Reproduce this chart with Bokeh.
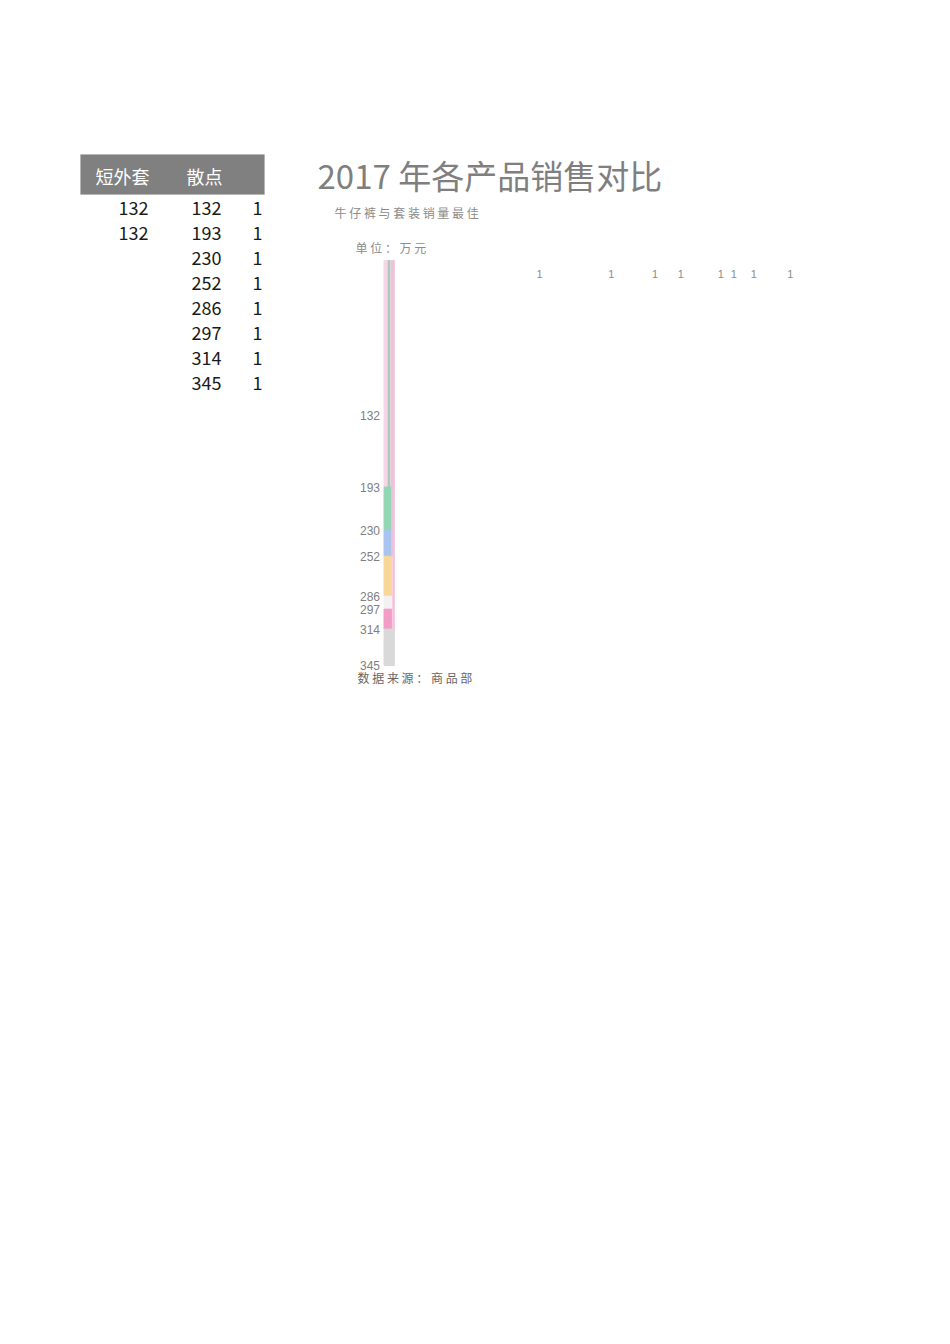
from bokeh.plotting import figure
from bokeh.models import Range1d, Label, BoxAnnotation
from bokeh.core.properties import value
from bokeh.embed import file_html
from bokeh.resources import INLINE

# table data
header = ["短外套", "散点"]
jacket = [132, 132]
points = [132, 193, 230, 252, 286, 297, 314, 345]
ones = [1, 1, 1, 1, 1, 1, 1, 1]

title = "2017 年各产品销售对比"
subtitle = "牛 仔 裤 与 套 装 销 量 最 佳"
unit = "单 位 ： 万 元"
source_note = "数 据 来 源 ： 商 品 部"

seg_colors = ["#F8D6E6", "#F8D6E6", "#93D6B3", "#A9C5EF", "#F8D898", "#F2F2F2", "#F29CC8", "#D9D9D9"]

W, H = 950, 720
CJK = "Noto Sans CJK SC"

# where value 0 sits on the page and how many px per unit
X0, KX = 383.5, 1.178
Y0, KY = 260.0, 405.0 / 345


def sy(y):
    # page y (top down) -> screen y (bottom up)
    return H - y


# the frame fills the whole canvas, the value scale is set so the chart lands in place
p = figure(width=W, height=H, output_backend="svg", toolbar_location=None,
           x_range=Range1d(-X0 / KX, (W - X0) / KX),
           y_range=Range1d((H - Y0) / KY, -Y0 / KY),
           min_border=0)
p.outline_line_color = None
p.grid.visible = False
p.axis.visible = False
p.background_fill_color = "white"
p.border_fill_color = "white"

# value labels on the left of the column
p.text(x=0, y=points, text=[str(v) for v in points], x_offset=-4, text_align="right",
       text_baseline="middle", text_font=value("Liberation Sans"), text_font_size="12px",
       text_color="#808080")

# stacked column
bottoms = [0] + points[:-1]
p.vbar(x=3.25, width=6.5, bottom=bottoms, top=points, color=seg_colors)
# thin stripes of the other series
p.vbar(x=4.2, width=1.3, bottom=0, top=points[1], color="#A3CDBC")
p.vbar(x=6.8, width=0.7, bottom=0, top=points[3], color="#CDD0D8")
p.vbar(x=8.1, width=1.2, bottom=0, top=points[-2], color="#F5BFD8")
p.vbar(x=7.6, width=2.4, bottom=points[-2], top=points[-1], color="#D9D9D9")

# "1" labels
p.text(x=points, y=ones, text=[str(v) for v in ones], text_align="center", text_baseline="middle",
       y_offset=12, text_font=value("Liberation Sans"), text_font_size="11px", text_color="#8C8C8C")

# titles
p.add_layout(Label(x=317, y=sy(174), x_units="screen", y_units="screen", text=title,
                   text_font=CJK, text_font_size="33px", text_color="#7F7F7F",
                   text_baseline="middle", text_align="left"))
p.add_layout(Label(x=334, y=sy(212), x_units="screen", y_units="screen", text=subtitle,
                   text_font=CJK, text_font_size="12px", text_color="#8C8C8C",
                   text_baseline="middle", text_align="left"))
p.add_layout(Label(x=355, y=sy(247), x_units="screen", y_units="screen", text=unit,
                   text_font=CJK, text_font_size="12px", text_color="#8C8C8C",
                   text_baseline="middle", text_align="left"))
p.add_layout(Label(x=357, y=sy(677), x_units="screen", y_units="screen", text=source_note,
                   text_font=CJK, text_font_size="12px", text_color="#666666",
                   text_baseline="middle", text_align="left"))

# table
p.add_layout(BoxAnnotation(left=80, right=264, top=sy(154), bottom=sy(194),
                           left_units="screen", right_units="screen", top_units="screen", bottom_units="screen",
                           fill_color="#808080", fill_alpha=1, line_color="#A6A6A6", line_width=1))
p.add_layout(Label(x=95, y=sy(175), x_units="screen", y_units="screen", text=header[0],
                   text_font=CJK, text_font_size="18px", text_color="white", text_baseline="middle"))
p.add_layout(Label(x=186, y=sy(175), x_units="screen", y_units="screen", text=header[1],
                   text_font=CJK, text_font_size="18px", text_color="white", text_baseline="middle"))
for i, v in enumerate(jacket):
    p.add_layout(Label(x=148, y=sy(207 + 25 * i), x_units="screen", y_units="screen", text=str(v),
                       text_font=CJK, text_font_size="18px", text_color="#1A1A1A",
                       text_baseline="middle", text_align="right"))
for i, (v, o) in enumerate(zip(points, ones)):
    p.add_layout(Label(x=221, y=sy(207 + 25 * i), x_units="screen", y_units="screen", text=str(v),
                       text_font=CJK, text_font_size="18px", text_color="#1A1A1A",
                       text_baseline="middle", text_align="right"))
    p.add_layout(Label(x=262, y=sy(207 + 25 * i), x_units="screen", y_units="screen", text=str(o),
                       text_font=CJK, text_font_size="18px", text_color="#1A1A1A",
                       text_baseline="middle", text_align="right"))

open("out.html", "w").write(file_html(p, INLINE))
